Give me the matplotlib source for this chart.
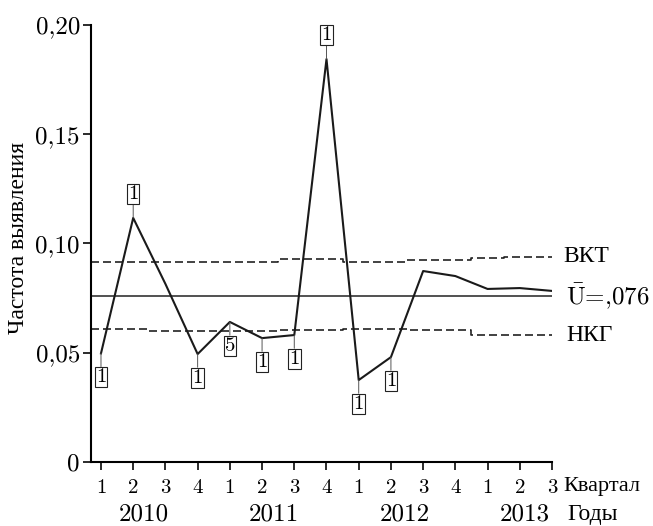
import numpy as np
import matplotlib
matplotlib.use("Agg")
import matplotlib.pyplot as plt

# quarterly detection rate, 2010 Q1 .. 2013 Q3
quarters = ['1', '2', '3', '4', '1', '2', '3', '4', '1', '2', '3', '4', '1', '2', '3']
years = ['2010', '2011', '2012', '2013']
year_pos = [2.34, 6.38, 10.44, 14.17]
freq = [0.0497, 0.1117, 0.0815, 0.0494, 0.0641, 0.0567, 0.0581, 0.1844,
        0.0375, 0.0480, 0.0874, 0.0851, 0.0792, 0.0796, 0.0783]
ucl = [0.0915, 0.0915, 0.0915, 0.0915, 0.0915, 0.0915, 0.0929, 0.0929,
       0.0915, 0.0915, 0.0924, 0.0924, 0.0932, 0.0940, 0.0940]
lcl = [0.0607, 0.0607, 0.0601, 0.0601, 0.0601, 0.0601, 0.0604, 0.0604,
       0.0609, 0.0609, 0.0605, 0.0605, 0.0581, 0.0581, 0.0581]
ubar = 0.076

# boxed counts next to some points
flag_idx = [0, 1, 3, 4, 5, 6, 7, 8, 9]
flag_txt = ['1', '1', '1', '5', '1', '1', '1', '1', '1']

plt.rcParams['mathtext.fontset'] = 'cm'
num_font = ['cmr10', 'Liberation Serif']
cyr_font = ['Liberation Serif', 'DejaVu Serif']

fig = plt.figure(figsize=(6.53, 5.26), dpi=100)
ax = fig.add_axes([91 / 653, 64 / 526, 461 / 653, 437 / 526])

x = np.arange(1, len(freq) + 1)
x0 = 0.69

# control limits (step lines), mean, data line
ax.plot(np.r_[x0, x], [ucl[0]] + ucl, drawstyle='steps-mid', color='#222222',
        lw=1.2, dashes=(4.8, 2.4))
ax.plot(np.r_[x0, x], [lcl[0]] + lcl, drawstyle='steps-mid', color='#222222',
        lw=1.2, dashes=(4.8, 2.4))
ax.axhline(ubar, color='#222222', lw=1.1)
ax.plot(x, freq, color='#1a1a1a', lw=1.5)

for i, t in zip(flag_idx, flag_txt):
    dy = 17 if freq[i] > ucl[i] else -17
    ax.annotate(t, xy=(x[i], freq[i]), xytext=(0, dy), textcoords='offset points',
                ha='center', va='center', fontsize=15, family=num_font,
                bbox=dict(boxstyle='square,pad=0.05', fc='white', ec='#222222', lw=0.8),
                arrowprops=dict(arrowstyle='-', color='#555555', lw=0.7,
                                shrinkA=0, shrinkB=0))

ax.set_xlim(x0, 15)
ax.set_ylim(0, 0.20)
ax.set_yticks([0, 0.05, 0.10, 0.15, 0.20])
ax.set_yticklabels(['0', '0,05', '0,10', '0,15', '0,20'], family=num_font, fontsize=18)
ax.set_xticks(x)
ax.set_xticklabels(quarters, family=num_font, fontsize=15)

for s in ['top', 'right']:
    ax.spines[s].set_visible(False)
for s in ['left', 'bottom']:
    ax.spines[s].set_linewidth(1.5)
ax.spines['bottom'].set_bounds(x0, 15)
ax.tick_params(axis='both', direction='out', length=6, width=1.3, color='#1a1a1a')
ax.tick_params(axis='x', pad=6)
ax.tick_params(axis='y', pad=2)

tr = ax.get_xaxis_transform()
for p, yr in zip(year_pos, years):
    ax.text(p, -0.121, yr, transform=tr, ha='center', va='center',
            fontsize=18, family=num_font)
ax.annotate('Квартал', xy=(15, -0.057), xycoords=tr, xytext=(8, 0),
            textcoords='offset points', ha='left', va='center',
            fontsize=16, family=cyr_font, annotation_clip=False)
ax.annotate('Годы', xy=(15, -0.121), xycoords=tr, xytext=(11, 0),
            textcoords='offset points', ha='left', va='center',
            fontsize=17, family=cyr_font, annotation_clip=False)

# right-hand labels
ax.annotate('ВКТ', xy=(15, ucl[-1]), xytext=(8, 0), textcoords='offset points',
            ha='left', va='center', fontsize=17, family=cyr_font, annotation_clip=False)
ax.annotate(r'$\bar{\mathrm{U}}$=,076', xy=(15, ubar), xytext=(10, 0),
            textcoords='offset points', ha='left', va='center', fontsize=18,
            family=num_font, annotation_clip=False)
ax.annotate('НКГ', xy=(15, lcl[-1]), xytext=(10, 0), textcoords='offset points',
            ha='left', va='center', fontsize=17, family=cyr_font, annotation_clip=False)

fig.text(19 / 653, 1 - 238 / 526, 'Частота выявления', rotation=90, ha='center',
         va='center', fontsize=17, family=cyr_font)

fig.savefig('out.png', dpi=100, facecolor='white')
